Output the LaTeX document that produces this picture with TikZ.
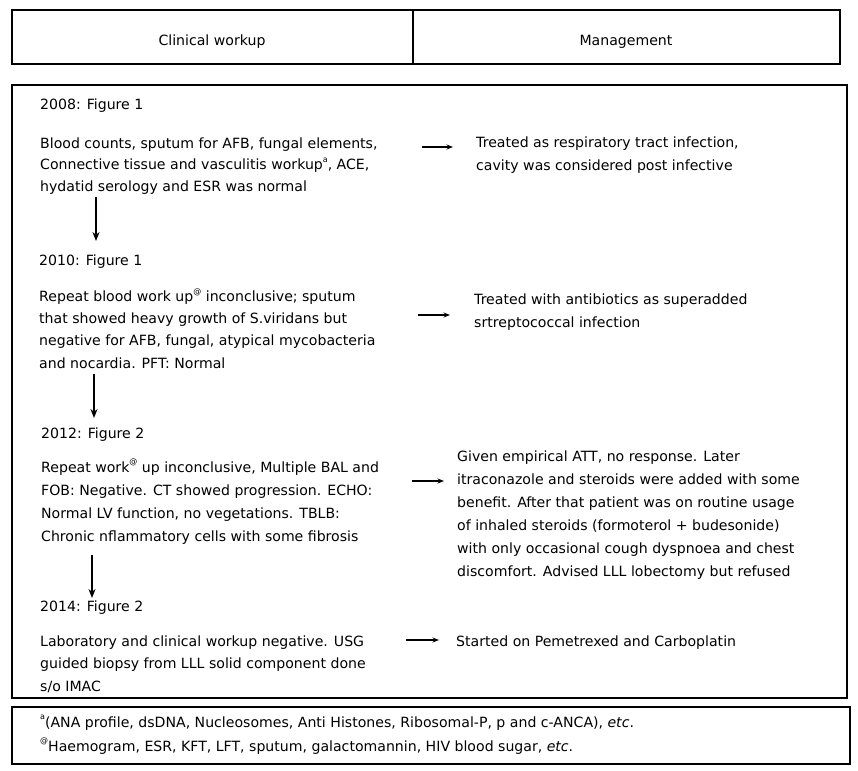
\documentclass[tikz,border=0pt]{standalone}
\usepackage{fontspec}
\setmainfont{DejaVu Sans}
\usetikzlibrary{arrows.meta}
\newcommand\supmark[1]{\raisebox{0.5em}{\fontsize{8}{8}\selectfont #1}}
\begin{document}
\begin{tikzpicture}[x=1pt,y=-1pt,
  framebox/.style={draw, line width=1.2pt},
  txt/.style={inner sep=0pt, anchor=base west, align=left, font=\fontsize{14.1}{22.5}\selectfont},
  lsk/.style={font=\fontsize{14.1}{#1}\selectfont},
  varrow/.style={line width=2pt, -{Stealth[length=9pt,width=7pt]}},
  harrow/.style={line width=1.1pt, -{Stealth[length=6.5pt,width=5pt]}}
]
\useasboundingbox[fill=white] (0,0) rectangle (858,770);
% frames
\draw[framebox] (12,10) rectangle (840,64);
\draw[framebox] (413,10) -- (413,64);
\draw[framebox] (12,85) rectangle (847,698);
\draw[framebox] (12,707) rectangle (850,764);
% header
\node[txt, anchor=base] (hc) at (212,46) {Clinical workup};
\node[txt, anchor=base] (hm) at (626,46) {Management};
% left column (multi-line nodes are anchored at the baseline of their last line)
\node[txt] (t1) at (40,110) {2008: Figure 1};
\node[txt, lsk=21.5] (b1) at (40,191) {Blood counts, sputum for AFB, fungal elements,\\Connective tissue and vasculitis workup\supmark{a}, ACE,\\hydatid serology and ESR was normal};
\node[txt] (t2) at (39,265) {2010: Figure 1};
\node[txt, lsk=22.3] (b2) at (39,368) {Repeat blood work up\supmark{@} inconclusive; sputum\\that showed heavy growth of S.viridans but\\negative for AFB, fungal, atypical mycobacteria\\and nocardia. PFT: Normal};
\node[txt] (t3) at (41,438) {2012: Figure 2};
\node[txt, lsk=23] (b3) at (41,541) {Repeat work\supmark{@} up inconclusive, Multiple BAL and\\FOB: Negative. CT showed progression. ECHO:\\Normal LV function, no vegetations. TBLB:\\Chronic nflammatory cells with some fibrosis};
\node[txt] (t4) at (40,611) {2014: Figure 2};
\node[txt, lsk=22.5] (b4) at (40,691) {Laboratory and clinical workup negative. USG\\guided biopsy from LLL solid component done\\s/o IMAC};
% right column
\node[txt, lsk=22] (r1) at (476,170) {Treated as respiratory tract infection,\\cavity was considered post infective};
\node[txt, lsk=23] (r2) at (474,327) {Treated with antibiotics as superadded\\srtreptococcal infection};
\node[txt, lsk=23] (r3) at (457,576) {Given empirical ATT, no response. Later\\itraconazole and steroids were added with some\\benefit. After that patient was on routine usage\\of inhaled steroids (formoterol + budesonide)\\with only occasional cough dyspnoea and chest\\discomfort. Advised LLL lobectomy but refused};
\node[txt] (r4) at (456,646) {Started on Pemetrexed and Carboplatin};
% footnotes
\node[txt] (f1) at (40,727) {\supmark{a}(ANA profile, dsDNA, Nucleosomes, Anti Histones, Ribosomal-P, p and c-ANCA), \textit{etc}.};
\node[txt] (f2) at (40,751) {\supmark{@}Haemogram, ESR, KFT, LFT, sputum, galactomannin, HIV blood sugar, \textit{etc}.};
% arrow end points
\coordinate (d1a) at (96,197);  \coordinate (d1b) at (96,241);
\coordinate (d2a) at (94,374);  \coordinate (d2b) at (94,418);
\coordinate (d3a) at (92,555);  \coordinate (d3b) at (92,598);
\coordinate (h1a) at (422,147); \coordinate (h1b) at (453,147);
\coordinate (h2a) at (418,315); \coordinate (h2b) at (450,315);
\coordinate (h3a) at (412,481); \coordinate (h3b) at (444,481);
\coordinate (h4a) at (406,640); \coordinate (h4b) at (439,640);
\draw[varrow] (d1a) -- (d1b);
\draw[varrow] (d2a) -- (d2b);
\draw[varrow] (d3a) -- (d3b);
\draw[harrow] (h1a) -- (h1b);
\draw[harrow] (h2a) -- (h2b);
\draw[harrow] (h3a) -- (h3b);
\draw[harrow] (h4a) -- (h4b);
\end{tikzpicture}
\end{document}
